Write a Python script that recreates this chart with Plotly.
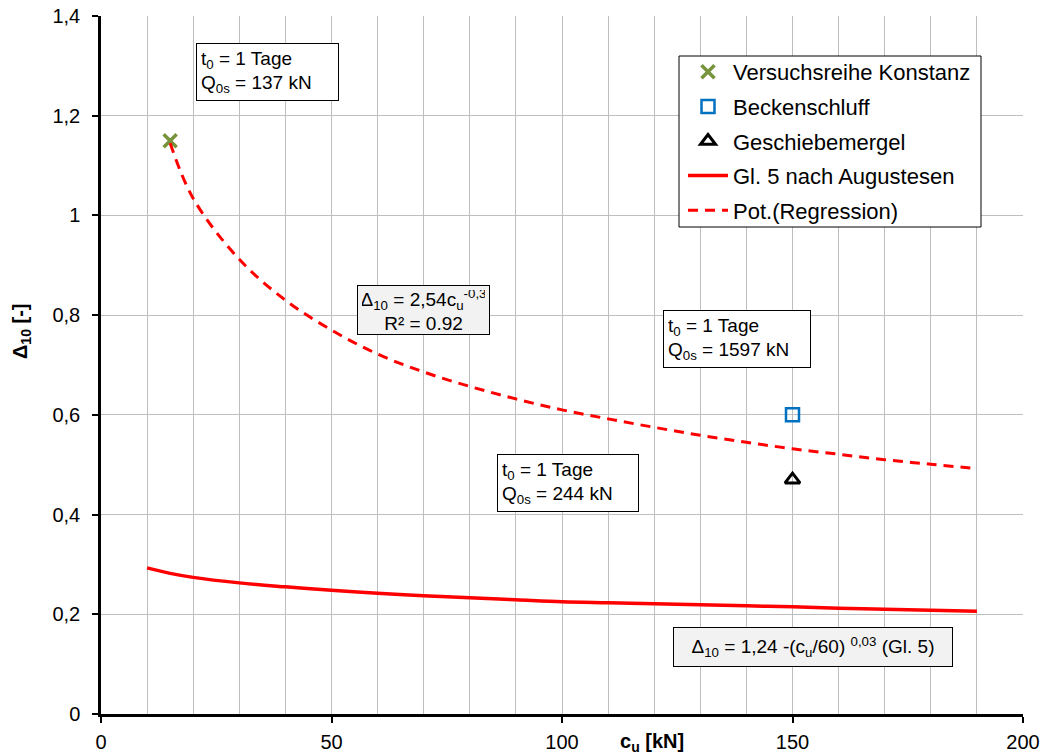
import plotly.graph_objects as go

# ---- data ----
konstanz_x = [15]
konstanz_y = [1.15]
becken_x = [150]
becken_y = [0.60]
geschiebe_x = [150]
geschiebe_y = [0.47]

gl5_x = [10, 15, 20, 30, 40, 50, 60, 70, 80, 90, 100, 110, 120, 130, 140, 150, 160, 170, 180, 190]
gl5_y = [0.293, 0.282, 0.274, 0.263, 0.255, 0.248, 0.242, 0.237, 0.233, 0.229, 0.225,
         0.223, 0.221, 0.219, 0.217, 0.215, 0.212, 0.210, 0.208, 0.206]

reg_x = [15, 20, 30, 40, 50, 60, 70, 80, 90, 100, 110, 120, 130, 140, 150, 160, 170, 180, 190]
reg_y = [1.145, 1.034, 0.912, 0.830, 0.770, 0.722, 0.686, 0.657, 0.632, 0.610, 0.592,
         0.575, 0.559, 0.545, 0.532, 0.521, 0.510, 0.501, 0.492]

FONT = "Arial, Liberation Sans, sans-serif"

fig = go.Figure()

fig.add_trace(go.Scatter(x=konstanz_x, y=konstanz_y, mode="markers", name="Versuchsreihe Konstanz",
                         legendgroup="a", legendrank=1,
                         marker=dict(symbol="x-thin", size=13, color="#77933C",
                                     line=dict(color="#77933C", width=3.5))))
fig.add_trace(go.Scatter(x=becken_x, y=becken_y, mode="markers", name="Beckenschluff",
                         legendgroup="b", legendrank=2,
                         marker=dict(symbol="square-open", size=13, color="#0070C0",
                                     line=dict(color="#0070C0", width=2.5))))
fig.add_trace(go.Scatter(x=geschiebe_x, y=geschiebe_y, mode="markers", name="Geschiebemergel",
                         legendgroup="c", legendrank=3,
                         marker=dict(symbol="triangle-up-open", size=13, color="black",
                                     line=dict(color="black", width=3))))
fig.add_trace(go.Scatter(x=gl5_x, y=gl5_y, mode="lines", name="Gl. 5 nach Augustesen",
                         legendgroup="d", legendrank=4,
                         line=dict(color="#FF0000", width=3.5, shape="spline")))
fig.add_trace(go.Scatter(x=reg_x, y=reg_y, mode="lines", name="Pot.(Regression)",
                         legendgroup="e", legendrank=5,
                         line=dict(color="#FF0000", width=3, dash="10px,7px", shape="spline")))

GRID = "#BEBEBE"

fig.update_xaxes(range=[0, 200], dtick=50, tick0=0, showgrid=True, gridcolor=GRID, gridwidth=1.3,
                 minor=dict(dtick=10, showgrid=True, gridcolor=GRID, gridwidth=1.3, ticks=""),
                 showline=True, linecolor="black", linewidth=2.5,
                 ticks="outside", ticklen=6, tickwidth=2, tickcolor="black",
                 zeroline=False, ticklabelstandoff=2, automargin=False,
                 tickfont=dict(size=20, color="black", family=FONT))
fig.update_yaxes(range=[0, 1.4], dtick=0.2, tick0=0, showgrid=True, gridcolor=GRID, gridwidth=1.3,
                 showline=True, linecolor="black", linewidth=2.5,
                 ticks="outside", ticklen=6, tickwidth=2, tickcolor="black",
                 zeroline=False, ticklabelstandoff=8, automargin=False,
                 tickfont=dict(size=20, color="black", family=FONT))

def px2paper(px, py):
    return (px - 101) / 922.0, (714 - py) / 698.0

annos = []

def box(text, left, top, w, h, bg, align):
    x, y = px2paper(left, top)
    pad = 4
    annos.append(dict(text=text, xref="paper", yref="paper", x=x, y=y,
                      xanchor="left", yanchor="top", showarrow=False,
                      width=w - 2 * pad - 2, height=h - 2 * pad - 2, align=align,
                      bgcolor=bg, bordercolor="black", borderwidth=1, borderpad=pad,
                      font=dict(size=19, color="black", family=FONT)))

box("t<sub>0</sub> = 1 Tage<br>Q<sub>0s</sub> = 137 kN", 196, 43, 143, 58, "white", "left")
box("Δ<sub>10</sub> = 2,54c<sub>u</sub><sup>-0,3</sup><br>R² = 0,92", 357, 285, 133, 50, "#F2F2F2", "center")
box("t<sub>0</sub> = 1 Tage<br>Q<sub>0s</sub> = 1597 kN", 663, 310, 148, 58, "white", "left")
box("t<sub>0</sub> = 1 Tage<br>Q<sub>0s</sub> = 244 kN", 497, 454, 142, 58, "white", "left")
box("Δ<sub>10</sub> = 1,24 -(c<sub>u</sub>/60) <sup>0,03</sup> (Gl. 5)", 673, 627, 280, 40, "#F2F2F2", "center")

# axis titles
xt, yt = px2paper(652, 742)
annos.append(dict(text="<b>c<sub>u</sub> [kN]</b>", xref="paper", yref="paper", x=xt, y=yt,
                  xanchor="center", yanchor="middle", showarrow=False,
                  font=dict(size=20, color="black", family=FONT)))
xt, yt = px2paper(21, 331)
annos.append(dict(text="<b>Δ<sub>10</sub> [-]</b>", xref="paper", yref="paper", x=xt, y=yt,
                  xanchor="center", yanchor="middle", showarrow=False, textangle=-90,
                  font=dict(size=20, color="black", family=FONT)))

# legend frame drawn as a shape, legend itself transparent
bx0, by0 = px2paper(679, 56)
bx1, by1 = px2paper(981, 227)
shapes = [dict(type="rect", xref="paper", yref="paper", x0=bx0, y0=by1, x1=bx1, y1=by0,
               fillcolor="white", line=dict(color="black", width=1), layer="above")]

lx, ly = px2paper(683, 51)
fig.update_layout(
    width=1045, height=755,
    margin=dict(l=101, r=22, t=16, b=41),
    paper_bgcolor="white", plot_bgcolor="white",
    separators=",.",
    font=dict(family=FONT, color="black"),
    annotations=annos,
    shapes=shapes,
    legend=dict(x=lx, y=ly, xanchor="left", yanchor="top",
                bgcolor="rgba(0,0,0,0)", borderwidth=0,
                font=dict(size=22, color="black", family=FONT),
                tracegroupgap=3, itemwidth=40),
)

fig.write_html("out.html")
